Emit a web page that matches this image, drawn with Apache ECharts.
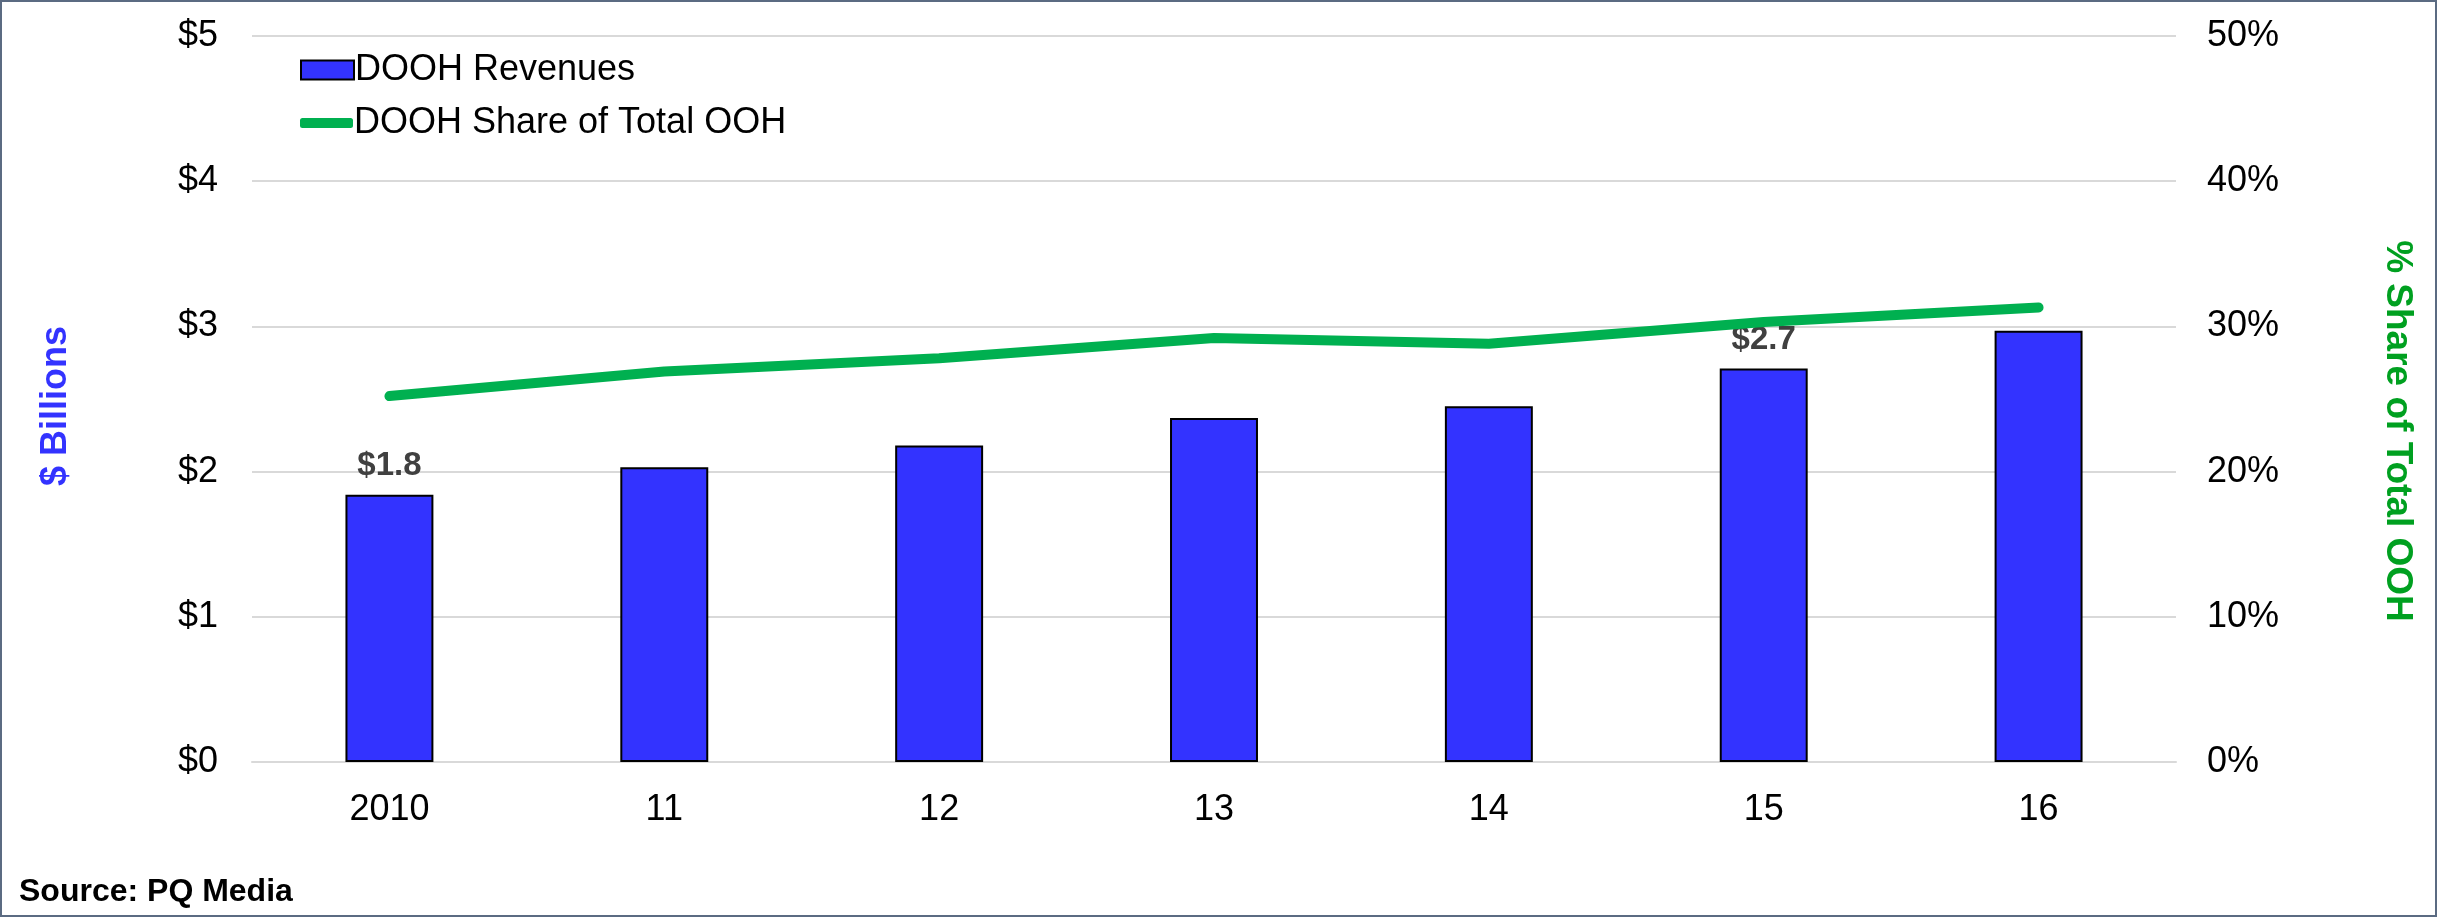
<!DOCTYPE html>
<html><head><meta charset="utf-8">
<script src="https://cdn.jsdelivr.net/npm/echarts@6/dist/echarts.min.js"></script>
<style>
html,body{margin:0;padding:0;background:#fff;}
#c{width:2437px;height:917px;box-sizing:border-box;border:2px solid #5b6b82;}
</style></head>
<body><div id="c"></div>
<script>
const categories = ['2010','11','12','13','14','15','16'];
const revenues = [1.84, 2.03, 2.18, 2.37, 2.45, 2.71, 2.97];
const sharePct = [25.2, 26.9, 27.8, 29.2, 28.8, 30.3, 31.3];
const labelledBars = {0: '$1.8', 5: '$2.7'};
const leftTicks = [0,1,2,3,4,5];
const rightTicks = [0,10,20,30,40,50];

const FONT = '"Liberation Sans", Arial, sans-serif';
const chart = echarts.init(document.getElementById('c'), null, {renderer:'canvas'});
chart.setOption({
  animation:false,
  textStyle:{fontFamily:FONT},
  grid:{left:250,right:259,top:34,bottom:153,containLabel:false},
  legend:[{
    orient:'vertical', left:293, top:45, itemWidth:53, itemHeight:19, icon:'rect',
    textStyle:{fontSize:36,color:'#000',fontFamily:FONT,padding:[0,0,0,-4]},
    data:[{name:'DOOH Revenues'}]
  },{
    orient:'vertical', left:293, top:98, itemWidth:53, itemHeight:10, icon:'roundRect',
    textStyle:{fontSize:36,color:'#000',fontFamily:FONT,padding:[0,0,0,-4]},
    data:[{name:'DOOH Share of Total OOH'}]
  }],
  xAxis:{
    type:'category', data:categories,
    axisLine:{lineStyle:{color:'#d9d9d9',width:2}},
    axisTick:{show:false},
    axisLabel:{fontSize:36,color:'#000',margin:30,fontFamily:FONT}
  },
  yAxis:[{
    type:'value', min:0, max:5, interval:1,
    axisLine:{show:false}, axisTick:{show:false},
    splitLine:{lineStyle:{color:'#d9d9d9',width:2}},
    axisLabel:{fontSize:36,color:'#000',margin:34,fontFamily:FONT,formatter:v=>'$'+v}
  },{
    type:'value', min:0, max:50, interval:10,
    axisLine:{show:false}, axisTick:{show:false}, splitLine:{show:false},
    axisLabel:{fontSize:36,color:'#000',margin:31,fontFamily:FONT,formatter:v=>v+'%'}
  }],
  series:[{
    name:'DOOH Revenues', type:'bar', yAxisIndex:0, barWidth:'32%',
    itemStyle:{color:'#3333ff',borderColor:'#000',borderWidth:2},
    data:revenues.map((v,i)=>{
      const d={value:v};
      if(labelledBars[i]!==undefined){
        d.label={show:true,position:'top',distance:12,formatter:labelledBars[i],
          fontSize:33,fontWeight:'bold',color:'#404040',fontFamily:FONT};
      }
      return d;
    })
  },{
    name:'DOOH Share of Total OOH', type:'line', yAxisIndex:1,
    showSymbol:false, symbol:'none',
    lineStyle:{color:'#00b050',width:10,cap:'round',join:'round'},
    itemStyle:{color:'#00b050'},
    data:sharePct
  }],
  graphic:[{
    type:'text', x:54, y:404, rotation:Math.PI/2,
    style:{text:'$ Billions',font:'bold 36px '+FONT,fill:'#3333ff',align:'center',verticalAlign:'middle'}
  },{
    type:'text', x:2395, y:429, rotation:-Math.PI/2,
    style:{text:'% Share of Total OOH',font:'bold 37px '+FONT,fill:'#00a020',align:'center',verticalAlign:'middle'}
  },{
    type:'text', left:17, top:874,
    style:{text:'Source: PQ Media',font:'bold 32px '+FONT,fill:'#000'}
  }]
});
</script></body></html>
